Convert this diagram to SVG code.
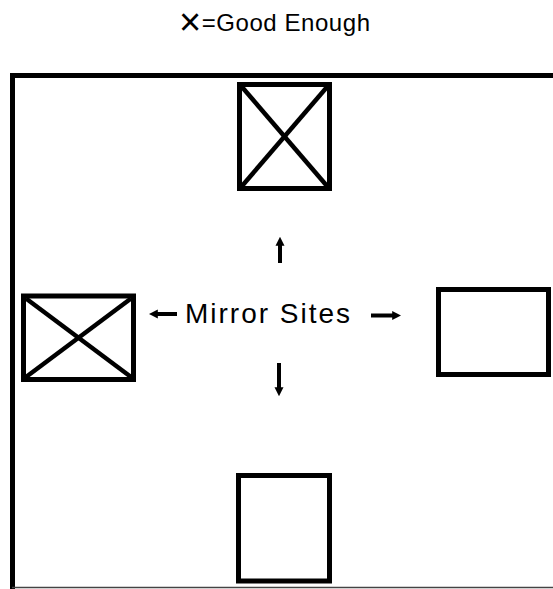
<svg xmlns="http://www.w3.org/2000/svg" width="553" height="589" viewBox="0 0 553 589">
  <style>
    .box { fill: #fff; stroke: #000; stroke-width: 5; }
    .cross { stroke: #000; stroke-width: 4.5; stroke-linecap: butt; }
    .arrow { stroke: #000; stroke-width: 4; fill: none; marker-end: url(#head); }
    .lbl { font-family: "Liberation Sans", Arial, sans-serif; fill: #000; }
  </style>
  <defs>
    <marker id="head" viewBox="0 0 10 10" refX="2" refY="5" markerWidth="9" markerHeight="11" markerUnits="userSpaceOnUse" orient="auto">
      <path d="M0,0 L10,5 L0,10 Z" fill="#000"/>
    </marker>
  </defs>
  <rect width="553" height="589" fill="#fff"/>

  <g id="title">
    <text class="lbl" x="179" y="31" font-size="24" textLength="191" lengthAdjust="spacing"><tspan font-size="38" dy="4">×</tspan><tspan dy="-4">=Good Enough</tspan></text>
  </g>

  <g id="frame">
    <path d="M12.5,589 V75.5 H553" fill="none" stroke="#000" stroke-width="5"/>
    <line x1="12" y1="587.5" x2="553" y2="587.5" stroke="#444" stroke-width="1.5"/>
  </g>

  <g id="site-top">
    <rect class="box" x="239.5" y="84.5" width="90" height="104"/>
    <line class="cross" x1="242" y1="87" x2="327" y2="186"/>
    <line class="cross" x1="327" y1="87" x2="242" y2="186"/>
  </g>

  <g id="site-left">
    <rect class="box" x="23.5" y="296" width="110" height="83.5"/>
    <line class="cross" x1="26" y1="298.5" x2="131" y2="377"/>
    <line class="cross" x1="131" y1="298.5" x2="26" y2="377"/>
  </g>

  <g id="site-right">
    <rect class="box" x="438.5" y="289.5" width="110" height="85"/>
  </g>

  <g id="site-bottom">
    <rect class="box" x="238.5" y="475.5" width="91" height="105.5"/>
  </g>

  <g id="center-label">
    <text class="lbl" x="185" y="323" font-size="28" textLength="165" lengthAdjust="spacing">Mirror Sites</text>
  </g>

  <g id="connectors">
    <line class="arrow" x1="177" y1="314" x2="156" y2="314"/>
    <line class="arrow" x1="371" y1="315.5" x2="394" y2="315.5"/>
    <line class="arrow" x1="280" y1="263" x2="280" y2="244"/>
    <line class="arrow" x1="279" y1="363" x2="279" y2="389"/>
  </g>
</svg>
